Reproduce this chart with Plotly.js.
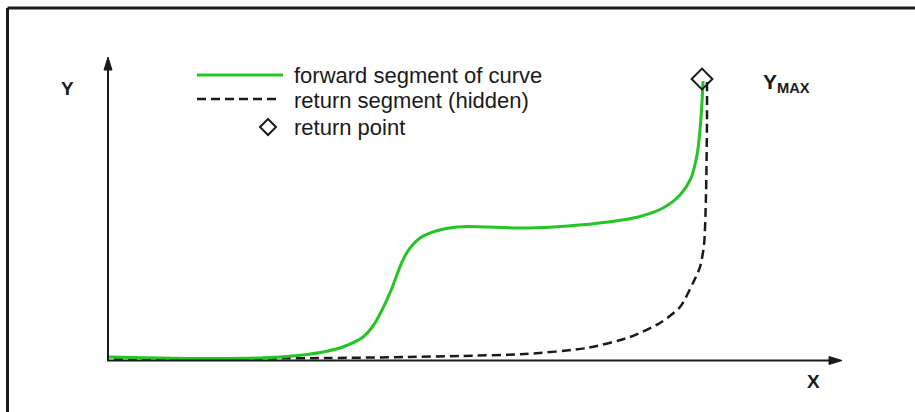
<!DOCTYPE html>
<html>
<head>
<meta charset="utf-8">
<script src="https://cdn.plot.ly/plotly-3.0.1.min.js"></script>
<style>html,body{margin:0;padding:0;background:#fff;}#chart{width:915px;height:412px;}</style>
</head>
<body>
<div id="chart"></div>
<script>
// Forward segment of curve (green, solid)
var forwardX = [0, 50, 100, 150, 190, 220, 240, 255, 265, 274, 284, 294, 302, 312, 328, 349, 380, 420, 460, 500, 530, 555, 572, 583, 589, 592, 594, 595];
var forwardY = [3, 2, 1.5, 2, 4.5, 9, 15, 23, 34, 50, 72, 98, 112, 122, 129, 133, 133, 132, 134, 138, 143, 152, 165, 182, 205, 230, 258, 279];
// Return segment (hidden, dashed)
var returnX = [599, 599, 598, 596, 592, 585, 572, 552, 522, 479, 417, 352, 300, 222, 155, 72, 0];
var returnY = [278, 240, 165, 115, 93, 77, 53, 37, 23, 12, 6, 4, 3, 2, 1.5, 1, 1];
// Return point
var pointX = [594];
var pointY = [281];

var legendLabels = ["forward segment of curve", "return segment (hidden)", "return point"];
var axisLabels = {x: "X", y: "Y", ymax: "Y<sub>MAX</sub>"};

var GREEN = "#22c522";
var INK = "#1a1a1a";
var FONT = "Liberation Sans, Arial, sans-serif";

// plot area geometry (px)
var L = 108, T = 57, W = 735, H = 303;
function px(xp) { return (xp - L) / W; }
function py(yp) { return (T + H - yp) / H; }

var traces = [
  {x: returnX, y: returnY, type: "scatter", mode: "lines", line: {color: INK, width: 2.5, dash: "9px,5px", shape: "spline", smoothing: 0.7}, hoverinfo: "skip", cliponaxis: false},
  {x: forwardX, y: forwardY, type: "scatter", mode: "lines", line: {color: GREEN, width: 3, shape: "spline", smoothing: 1}, hoverinfo: "skip", cliponaxis: false},
  {x: pointX, y: pointY, type: "scatter", mode: "markers", marker: {symbol: "diamond-open", size: 16, color: INK, line: {width: 2, color: INK}}, hoverinfo: "skip", cliponaxis: false}
];

var shapes = [
  // frame
  {type: "line", xref: "paper", yref: "paper", x0: px(7.5), x1: px(916), y0: py(8), y1: py(8), line: {color: INK, width: 3}},
  {type: "line", xref: "paper", yref: "paper", x0: px(7.5), x1: px(7.5), y0: py(8), y1: py(413), line: {color: INK, width: 3}},
  // axes
  {type: "line", xref: "paper", yref: "paper", x0: px(108), x1: px(108), y0: py(361), y1: py(66), line: {color: INK, width: 2}},
  {type: "line", xref: "paper", yref: "paper", x0: px(107), x1: px(832), y0: py(360.5), y1: py(360.5), line: {color: INK, width: 2}},
  {type: "path", xref: "paper", yref: "paper", path: "M" + px(108) + "," + py(57) + " L" + px(104) + "," + py(70) + " L" + px(112) + "," + py(70) + " Z", fillcolor: INK, line: {color: INK, width: 1}},
  {type: "path", xref: "paper", yref: "paper", path: "M" + px(842) + "," + py(360.5) + " L" + px(829) + "," + py(356.5) + " L" + px(829) + "," + py(364.5) + " Z", fillcolor: INK, line: {color: INK, width: 1}},
  // legend samples
  {type: "line", xref: "paper", yref: "paper", x0: px(197), x1: px(283), y0: py(75), y1: py(75), line: {color: GREEN, width: 3}},
  {type: "line", xref: "paper", yref: "paper", x0: px(197), x1: px(279), y0: py(99), y1: py(99), line: {color: INK, width: 2.5, dash: "9px,5px"}},
  {type: "path", xref: "paper", yref: "paper", path: "M" + px(268) + "," + py(119) + " L" + px(276) + "," + py(127) + " L" + px(268) + "," + py(135) + " L" + px(260) + "," + py(127) + " Z", fillcolor: "rgba(0,0,0,0)", line: {color: INK, width: 2}}
];

var annotations = [
  {xref: "paper", yref: "paper", x: px(292), y: py(75), xanchor: "left", yanchor: "middle", text: legendLabels[0], showarrow: false, font: {family: FONT, size: 22, color: INK}},
  {xref: "paper", yref: "paper", x: px(292), y: py(100), xanchor: "left", yanchor: "middle", text: legendLabels[1], showarrow: false, font: {family: FONT, size: 22, color: INK}},
  {xref: "paper", yref: "paper", x: px(292), y: py(127), xanchor: "left", yanchor: "middle", text: legendLabels[2], showarrow: false, font: {family: FONT, size: 22, color: INK}},
  {xref: "paper", yref: "paper", x: px(67), y: py(89), xanchor: "center", yanchor: "middle", text: "<b>" + axisLabels.y + "</b>", showarrow: false, font: {family: FONT, size: 19, color: INK}},
  {xref: "paper", yref: "paper", x: px(813), y: py(381), xanchor: "center", yanchor: "middle", text: "<b>" + axisLabels.x + "</b>", showarrow: false, font: {family: FONT, size: 19, color: INK}},
  {xref: "paper", yref: "paper", x: px(761), y: py(83), xanchor: "left", yanchor: "middle", text: "<b>" + axisLabels.ymax + "</b>", showarrow: false, font: {family: FONT, size: 21, color: INK}}
];

var layout = {
  width: 915, height: 412,
  margin: {l: L, r: 915 - L - W, t: T, b: 412 - T - H, pad: 0},
  paper_bgcolor: "#ffffff", plot_bgcolor: "#ffffff",
  showlegend: false,
  xaxis: {range: [0, W], visible: false, fixedrange: true},
  yaxis: {range: [0, H], visible: false, fixedrange: true},
  shapes: shapes,
  annotations: annotations,
  font: {family: FONT}
};

Plotly.newPlot("chart", traces, layout, {staticPlot: true, displayModeBar: false});
</script>
</body>
</html>
